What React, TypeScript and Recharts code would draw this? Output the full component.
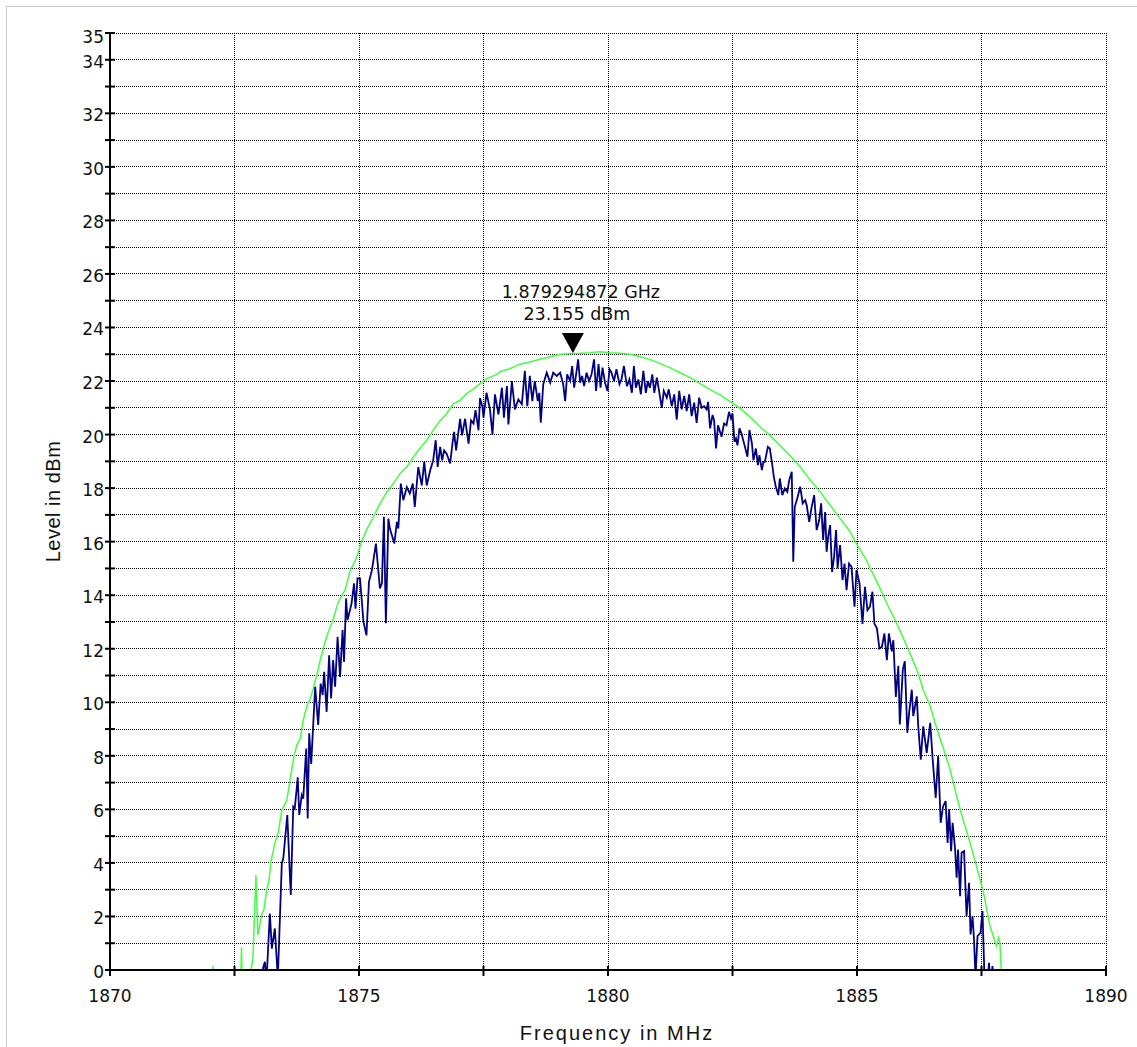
import React from "react"
import { LineChart, Line, XAxis, YAxis, CartesianGrid, ReferenceDot, Label } from "recharts"

// max hold trace (green)
const greenFreq = [
  1872.05, 1872.07, 1872.09, 1872.62, 1872.64, 1872.66, 1872.81, 1872.87, 1872.93, 1872.97,
  1873.05, 1873.09, 1873.15, 1873.19, 1873.23, 1873.31, 1873.38, 1873.45, 1873.55, 1873.61,
  1873.68, 1873.75, 1873.82, 1873.88, 1873.95, 1874.02, 1874.08, 1874.15, 1874.22, 1874.28,
  1874.35, 1874.48, 1874.58, 1874.72, 1874.82, 1874.95, 1875.05, 1875.15, 1875.29, 1875.42,
  1875.56, 1875.69, 1875.82, 1875.96, 1876.09, 1876.22, 1876.36, 1876.49, 1876.63, 1876.76,
  1876.89, 1877.03, 1877.16, 1877.3, 1877.43, 1877.56, 1877.77, 1877.83, 1878.03, 1878.23,
  1878.43, 1878.63, 1878.84, 1879.04, 1879.24, 1879.44, 1879.64, 1879.84, 1880.04, 1880.24,
  1880.44, 1880.64, 1880.84, 1881.04, 1881.24, 1881.45, 1881.65, 1881.85, 1882.05, 1882.25,
  1882.45, 1882.65, 1882.85, 1883.05, 1883.25, 1883.45, 1883.65, 1883.86, 1884.06, 1884.26,
  1884.46, 1884.66, 1884.86, 1884.99, 1885.19, 1885.4, 1885.6, 1885.8, 1886.03, 1886.2,
  1886.33, 1886.47, 1886.6, 1886.73, 1886.87, 1887.0, 1887.13, 1887.27, 1887.4, 1887.47,
  1887.54, 1887.67, 1887.8, 1887.84, 1887.87, 1887.91,
]
const greenLevel = [
  -1, 0.15, -1, -1, 0.84, -1, -0.2, 0.43, 3.55, 1.3,
  2.1, 2.24, 3.05, 3.3, 4.04, 4.73, 5.16, 5.97, 6.35, 7.03,
  7.84, 8.4, 8.65, 9.33, 9.83, 10.14, 10.5, 11.0, 11.57, 12.0,
  12.45, 13.1, 13.72, 14.2, 14.9, 15.4, 16.0, 16.43, 16.93, 17.42,
  17.86, 18.17, 18.54, 18.79, 19.16, 19.48, 19.79, 20.16, 20.53, 20.78,
  21.15, 21.28, 21.53, 21.71, 21.9, 22.09, 22.25, 22.35, 22.46, 22.63,
  22.71, 22.81, 22.91, 23.0, 23.03, 23.04, 23.06, 23.09, 23.06, 23.04,
  23.0, 22.91, 22.81, 22.66, 22.5, 22.31, 22.13, 21.9, 21.68, 21.48,
  21.23, 20.99, 20.66, 20.29, 19.98, 19.6, 19.23, 18.8, 18.3, 17.86,
  17.36, 16.87, 16.37, 15.93, 15.3, 14.5, 13.69, 12.94, 11.97, 11.22,
  10.47, 9.85, 9.04, 8.3, 7.49, 6.49, 5.62, 4.75, 3.88, 3.38,
  2.89, 1.64, 0.9, 1.2, 1.0, -0.5,
]

// clear/write trace (navy)
const navyFreq = [
  1873.01, 1873.08, 1873.11, 1873.14, 1873.21, 1873.25, 1873.31, 1873.37, 1873.45, 1873.48,
  1873.56, 1873.63, 1873.68, 1873.71, 1873.77, 1873.8, 1873.85, 1873.88, 1873.94, 1873.97,
  1874.0, 1874.04, 1874.12, 1874.18, 1874.23, 1874.27, 1874.3, 1874.35, 1874.4, 1874.44,
  1874.48, 1874.52, 1874.57, 1874.62, 1874.67, 1874.7, 1874.74, 1874.77, 1874.85, 1874.9,
  1874.93, 1874.97, 1875.02, 1875.09, 1875.15, 1875.2, 1875.26, 1875.34, 1875.42, 1875.46,
  1875.5, 1875.54, 1875.59, 1875.62, 1875.71, 1875.76, 1875.79, 1875.84, 1875.89, 1875.96,
  1876.02, 1876.08, 1876.12, 1876.19, 1876.26, 1876.31, 1876.36, 1876.43, 1876.49, 1876.54,
  1876.58, 1876.63, 1876.67, 1876.71, 1876.76, 1876.83, 1876.88, 1876.91, 1876.95, 1877.03,
  1877.07, 1877.13, 1877.2, 1877.25, 1877.3, 1877.34, 1877.4, 1877.43, 1877.48, 1877.5,
  1877.56, 1877.63, 1877.68, 1877.73, 1877.8, 1877.87, 1877.91, 1877.97, 1878.0, 1878.07,
  1878.13, 1878.2, 1878.27, 1878.33, 1878.38, 1878.43, 1878.48, 1878.53, 1878.59, 1878.62,
  1878.65, 1878.7, 1878.77, 1878.84, 1878.9, 1878.97, 1879.04, 1879.1, 1879.14, 1879.18,
  1879.24, 1879.28, 1879.32, 1879.37, 1879.4, 1879.44, 1879.48, 1879.52, 1879.57, 1879.62,
  1879.67, 1879.72, 1879.76, 1879.81, 1879.85, 1879.89, 1879.94, 1879.99, 1880.03, 1880.07,
  1880.12, 1880.17, 1880.23, 1880.27, 1880.32, 1880.38, 1880.43, 1880.48, 1880.52, 1880.56,
  1880.61, 1880.66, 1880.71, 1880.76, 1880.8, 1880.84, 1880.89, 1880.93, 1880.98, 1881.02,
  1881.08, 1881.12, 1881.18, 1881.22, 1881.28, 1881.33, 1881.38, 1881.43, 1881.48, 1881.53,
  1881.58, 1881.63, 1881.68, 1881.73, 1881.78, 1881.83, 1881.88, 1881.93, 1881.98, 1882.01,
  1882.05, 1882.1, 1882.13, 1882.17, 1882.21, 1882.28, 1882.33, 1882.38, 1882.43, 1882.47,
  1882.5, 1882.54, 1882.57, 1882.6, 1882.64, 1882.68, 1882.75, 1882.8, 1882.84, 1882.89,
  1882.92, 1882.97, 1883.01, 1883.04, 1883.09, 1883.12, 1883.15, 1883.21, 1883.25, 1883.29,
  1883.33, 1883.37, 1883.42, 1883.45, 1883.5, 1883.55, 1883.6, 1883.64, 1883.69, 1883.72,
  1883.75, 1883.8, 1883.86, 1883.91, 1883.96, 1883.99, 1884.04, 1884.09, 1884.14, 1884.19,
  1884.24, 1884.28, 1884.32, 1884.36, 1884.39, 1884.42, 1884.46, 1884.5, 1884.54, 1884.58,
  1884.61, 1884.66, 1884.71, 1884.75, 1884.79, 1884.84, 1884.89, 1884.95, 1884.99, 1885.05,
  1885.11, 1885.16, 1885.21, 1885.26, 1885.31, 1885.35, 1885.4, 1885.45, 1885.5, 1885.55,
  1885.6, 1885.64, 1885.7, 1885.73, 1885.78, 1885.83, 1885.86, 1885.92, 1885.96, 1886.01,
  1886.05, 1886.1, 1886.13, 1886.2, 1886.23, 1886.28, 1886.33, 1886.4, 1886.47, 1886.52,
  1886.58, 1886.63, 1886.68, 1886.73, 1886.78, 1886.82, 1886.85, 1886.89, 1886.92, 1886.97,
  1887.0, 1887.03, 1887.07, 1887.1, 1887.15, 1887.2, 1887.25, 1887.28, 1887.32, 1887.35,
  1887.38, 1887.42, 1887.48, 1887.52, 1887.56, 1887.63, 1887.65, 1887.67, 1887.7, 1887.72,
  1887.74,
]
const navyLevel = [
  -0.5, 0.12, 0.31, -0.5, 2.11, 0.8, 1.55, -0.3, 3.98, 4.17,
  5.79, 2.8, 6.1, 6.03, 7.2, 5.79, 6.53, 6.4, 8.27, 5.66,
  8.84, 7.7, 10.58, 9.15, 10.7, 10.27, 11.14, 9.64, 11.76, 10.14,
  11.58, 10.58, 12.45, 10.95, 12.7, 11.51, 13.88, 13.07, 13.69, 14.44,
  13.5, 14.63, 14.63, 13.0, 12.5, 14.5, 14.94, 15.93, 14.25, 14.44,
  16.93, 12.95, 16.86, 16.49, 15.93, 16.74, 16.49, 18.17, 17.55, 18.04,
  17.8, 18.17, 17.3, 18.79, 18.1, 18.98, 18.1, 18.67, 19.04, 19.79,
  18.79, 19.54, 19.04, 19.41, 19.29, 18.92, 19.72, 20.1, 19.41, 20.59,
  19.97, 20.59, 19.66, 20.53, 20.41, 20.91, 20.16, 21.36, 21.03, 20.63,
  21.56, 20.94, 20.0, 21.5, 20.75, 21.75, 20.63, 21.81, 20.38, 22.0,
  20.94, 21.31, 21.13, 22.38, 21.06, 22.19, 21.25, 22.0, 21.25, 21.56,
  20.44, 21.88, 22.31, 21.94, 22.31, 22.19, 22.31, 21.88, 21.25, 22.25,
  22.0, 22.56, 21.75, 22.38, 22.81, 21.94, 22.19, 21.81, 22.31, 22.0,
  22.25, 22.81, 21.63, 22.63, 21.75, 22.5, 21.94, 21.63, 22.44, 22.31,
  22.0, 22.44, 21.88, 22.06, 22.56, 21.81, 22.06, 21.56, 22.56, 21.75,
  22.06, 21.5, 22.38, 21.56, 22.0, 21.75, 22.25, 21.56, 22.13, 21.69,
  21.0, 21.63, 21.38, 21.69, 21.06, 21.5, 20.56, 21.63, 20.94, 21.44,
  20.88, 21.5, 20.69, 21.19, 20.44, 21.38, 21.0, 21.06, 20.94, 21.22,
  20.23, 20.73, 20.54, 19.48, 20.35, 19.92, 20.41, 20.35, 20.85, 20.6,
  20.79, 19.73, 19.85, 19.6, 20.23, 20.04, 19.54, 19.17, 20.17, 19.67,
  19.04, 19.48, 18.86, 19.23, 18.67, 18.98, 18.98, 19.54, 19.48, 18.98,
  18.42, 18.05, 17.74, 18.36, 17.74, 17.99, 17.86, 18.3, 18.61, 15.25,
  17.3, 17.61, 18.05, 17.43, 17.55, 17.36, 16.74, 17.3, 17.74, 16.43,
  16.8, 17.43, 16.06, 17.11, 15.62, 16.18, 16.62, 14.87, 15.43, 16.43,
  15.0, 15.87, 14.56, 15.18, 14.19, 15.18, 15.06, 13.57, 14.94, 14.44,
  12.93, 14.31, 13.44, 13.57, 14.13, 12.93, 12.76, 12.01, 12.07, 12.57,
  11.57, 12.57, 11.9, 12.32, 10.2, 11.36, 9.17, 11.22, 11.53, 8.86,
  9.66, 10.47, 9.48, 10.22, 9.1, 7.86, 9.1, 8.11, 9.23, 7.86,
  6.43, 7.99, 5.5, 6.12, 6.31, 4.75, 6.0, 4.44, 5.5, 4.5,
  3.45, 4.5, 2.76, 4.38, 4.44, 2.01, 3.26, 1.33, 2.01, 1.14,
  -0.3, 1.27, 1.39, 2.2, -0.3, -0.3, 0.27, -0.3, -0.3, 0.15,
  -0.3,
]

const xTicks = [1870, 1872.5, 1875, 1877.5, 1880, 1882.5, 1885, 1887.5, 1890]
const yTicks = [0, 1, 2, 3, 4, 5, 6, 7, 8, 9, 10, 11, 12, 13, 14, 15, 16, 17, 18, 19, 20, 21, 22, 23, 24, 25, 26, 27, 28, 29, 30, 31, 32, 33, 34, 35]

const markerFreq = 1879.294872
const markerLevel = 23.155
const markerLines = ["1.879294872 GHz", "23.155 dBm"]

const greenData = greenFreq.map((f, i) => ({ f, v: greenLevel[i] }))
const navyData = navyFreq.map((f, i) => ({ f, v: navyLevel[i] }))

const tickFont = "'DejaVu Sans', Verdana, sans-serif"
const titleFont = "'Liberation Sans', Arial, sans-serif"

function YTick(props: any) {
  const { x, y, payload } = props
  const v = payload.value
  const show = v % 2 === 0 || v === 35
  return (
    <g>
      <line x1={x - 5} x2={x + 5} y1={y} y2={y} stroke="#000" strokeWidth={2} />
      {show && (
        <text x={x - 6} y={y + (v === 35 ? 4 : 2)} textAnchor="end" dominantBaseline="central"
          fontFamily={tickFont} fontSize={17} fill="#111">{v}</text>
      )}
    </g>
  )
}

function XTick(props: any) {
  const { x, y, payload } = props
  const v = payload.value
  const show = v % 5 === 0
  return (
    <g>
      <line x1={x} x2={x} y1={y - 4} y2={y + 6} stroke="#000" strokeWidth={2} />
      {show && (
        <text x={x} y={y + 32} textAnchor="middle" fontFamily={tickFont} fontSize={17} fill="#111">{v}</text>
      )}
    </g>
  )
}

function Marker(props: any) {
  const { cx, cy } = props
  return (
    <g>
      <path d={`M${cx - 11},${cy - 17} L${cx + 11},${cy - 17} L${cx},${cy + 3} Z`} fill="#000" />
      <text x={cx + 8} y={cy - 52} textAnchor="middle" fontFamily={tickFont} fontSize={17.5} fill="#111">{markerLines[0]}</text>
      <text x={cx + 4} y={cy - 30} textAnchor="middle" fontFamily={tickFont} fontSize={17.5} fill="#111">{markerLines[1]}</text>
    </g>
  )
}

export default function App() {
  return (
    <div style={{ position: "fixed", left: 0, top: 0, width: 1137, height: 1047, overflow: "hidden", background: "#fff" }}>
      <div style={{ position: "absolute", left: 6, top: 6, width: 1200, height: 1100, borderLeft: "1px solid #c8c8c8", borderTop: "1px solid #c8c8c8" }} />
      <div style={{ position: "absolute", left: 0, top: 0 }}>
        <LineChart width={1137} height={1047} margin={{ top: 33, right: 31, bottom: 27, left: 50 }}>
          <CartesianGrid stroke="#000" strokeDasharray="1 1" shapeRendering="crispEdges" />
          <XAxis type="number" dataKey="f" domain={[1870, 1890]} ticks={xTicks} interval={0}
            allowDataOverflow height={50} tickSize={0} tickMargin={0} tick={<XTick />}
            axisLine={{ stroke: "#000", strokeWidth: 2 }}>
            <Label content={(p: any) => {
              const vb = p.viewBox
              return (
                <text x={vb.x + vb.width / 2 + 9} y={vb.y + 70} textAnchor="middle" fontFamily={titleFont}
                  fontSize={20} letterSpacing={2} fill="#111">Frequency in MHz</text>
              )
            }} />
          </XAxis>
          <YAxis type="number" domain={[0, 35]} ticks={yTicks} interval={0} allowDataOverflow
            width={60} tickSize={0} tickMargin={0} tick={<YTick />}
            axisLine={{ stroke: "#000", strokeWidth: 2 }}>
            <Label content={(p: any) => {
              const vb = p.viewBox
              const cx = vb.x + 10
              const cy = vb.y + vb.height / 2
              return (
                <text x={cx} y={cy} transform={`rotate(-90 ${cx} ${cy})`} textAnchor="middle" fontFamily={titleFont}
                  fontSize={20} letterSpacing={0.5} fill="#111">Level in dBm</text>
              )
            }} />
          </YAxis>
          <Line data={greenData} dataKey="v" type="linear" stroke="#44ff44" strokeWidth={1.5} dot={false}
            isAnimationActive={false} />
          <Line data={navyData} dataKey="v" type="linear" stroke="#000080" strokeWidth={1.8} dot={false}
            isAnimationActive={false} />
          <ReferenceDot x={markerFreq} y={markerLevel} shape={<Marker />} />
        </LineChart>
      </div>
    </div>
  )
}
